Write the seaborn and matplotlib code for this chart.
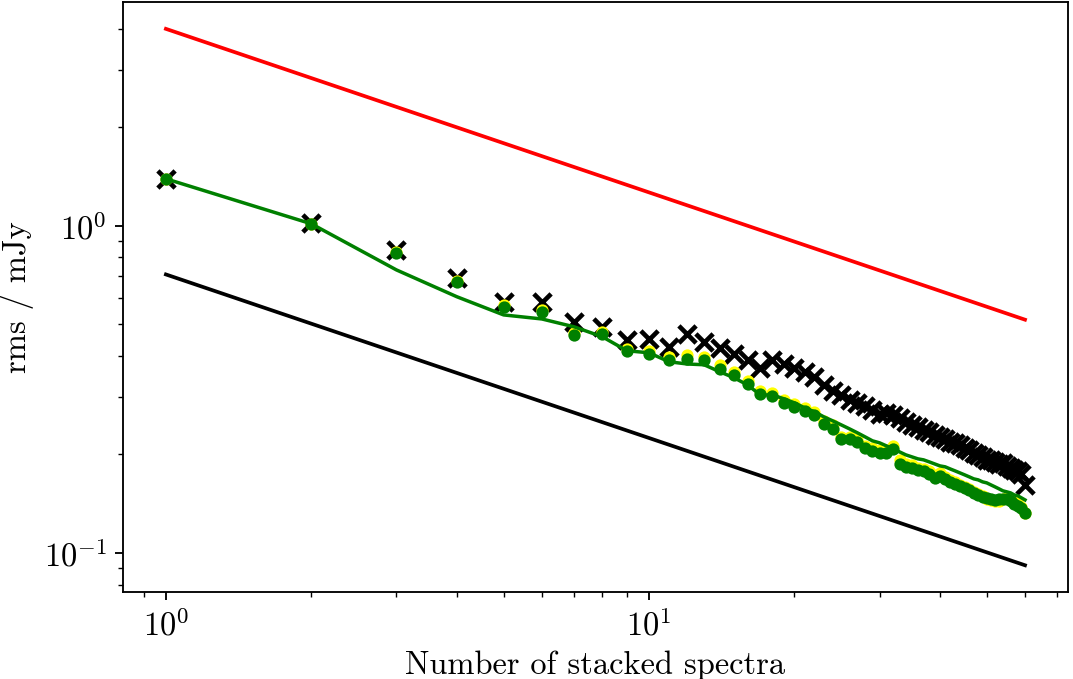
import numpy as np
import pandas as pd
import matplotlib
matplotlib.use("Agg")
import matplotlib.pyplot as plt
import seaborn as sns

# ---------------- data ----------------
n_spectra = list(range(1, 61))

rms_measured = [1.392, 1.021, 0.845, 0.693, 0.586, 0.586, 0.509, 0.491, 0.448, 0.451,
                0.427, 0.467, 0.442, 0.423, 0.406, 0.389, 0.368, 0.389, 0.378, 0.368,
                0.358, 0.345, 0.326, 0.313, 0.304, 0.294, 0.2875, 0.2815, 0.274, 0.266,
                0.267, 0.264, 0.259, 0.2516, 0.246, 0.243, 0.238, 0.234, 0.2296, 0.2263,
                0.2232, 0.2185, 0.217, 0.214, 0.2095, 0.2065, 0.2022, 0.1994, 0.1966, 0.1925,
                0.1925, 0.1898, 0.1871, 0.1884, 0.1845, 0.182, 0.1794, 0.1781, 0.1744, 0.1614]

rms_yellow = [1.392, 1.014, 0.83, 0.68, 0.573, 0.553, 0.471, 0.474, 0.421, 0.415,
              0.398, 0.403, 0.398, 0.376, 0.358, 0.336, 0.313, 0.309, 0.294, 0.286,
              0.278, 0.270, 0.253, 0.246, 0.226, 0.226, 0.223, 0.212, 0.2095, 0.2065,
              0.2065, 0.2124, 0.1925, 0.1871, 0.1858, 0.182, 0.1806, 0.1781, 0.1732, 0.1756,
              0.1708, 0.1672, 0.1649, 0.1615, 0.1592, 0.157, 0.1537, 0.1515, 0.1494, 0.1462,
              0.1452, 0.1442, 0.1442, 0.1462, 0.1473, 0.1452, 0.1432, 0.1412, 0.1382, 0.1325]

rms_green = [1.392, 1.014, 0.827, 0.674, 0.565, 0.546, 0.464, 0.467, 0.415, 0.406,
             0.389, 0.392, 0.389, 0.366, 0.350, 0.329, 0.306, 0.302, 0.2875, 0.2796,
             0.2718, 0.2643, 0.248, 0.2394, 0.2232, 0.2232, 0.2185, 0.2095, 0.205, 0.2022,
             0.2022, 0.208, 0.1871, 0.1833, 0.182, 0.1794, 0.1781, 0.1744, 0.1696, 0.172,
             0.1684, 0.1649, 0.1626, 0.1604, 0.1582, 0.1559, 0.1526, 0.1504, 0.1483, 0.1473,
             0.1462, 0.1452, 0.1462, 0.1462, 0.1462, 0.1442, 0.1412, 0.1392, 0.1373, 0.1325]

rms_green_line = [1.392, 1.014, 0.733, 0.607, 0.534, 0.519, 0.491, 0.458, 0.415, 0.409,
                  0.384, 0.378, 0.376, 0.358, 0.343, 0.326, 0.304, 0.304, 0.296, 0.2875,
                  0.2776, 0.270, 0.2606, 0.2533, 0.2462, 0.2394, 0.2328, 0.2263, 0.2201, 0.217,
                  0.2124, 0.208, 0.2036, 0.1994, 0.1966, 0.1939, 0.1925, 0.1898, 0.1871, 0.1845,
                  0.1833, 0.1806, 0.1781, 0.1756, 0.1732, 0.1708, 0.1684, 0.1672, 0.1649, 0.1637,
                  0.1614, 0.1592, 0.157, 0.1548, 0.1537, 0.1526, 0.1504, 0.1494, 0.1473, 0.1452]

# reference scaling lines (A / sqrt(N))
upper_norm = 4.0
lower_norm = 0.71

upper_line = [upper_norm / np.sqrt(n) for n in n_spectra]
lower_line = [lower_norm / np.sqrt(n) for n in n_spectra]

df = pd.DataFrame({
    "N": n_spectra,
    "measured": rms_measured,
    "yellow": rms_yellow,
    "green": rms_green,
    "green_line": rms_green_line,
    "upper": upper_line,
    "lower": lower_line,
})

# ---------------- style ----------------
plt.rcParams["font.family"] = ["cmr10"]
plt.rcParams["mathtext.fontset"] = "cm"
plt.rcParams["axes.formatter.use_mathtext"] = True
plt.rcParams["font.size"] = 14
plt.rcParams["axes.unicode_minus"] = False

DPI = 167
fig, ax = plt.subplots(figsize=(1073 / DPI, 679 / DPI), dpi=DPI)
fig.subplots_adjust(left=0.1146, right=0.9953, top=0.997, bottom=0.128)

sns.lineplot(data=df, x="N", y="upper", color="red", linewidth=1.6, ax=ax)
sns.lineplot(data=df, x="N", y="lower", color="black", linewidth=1.6, ax=ax)
sns.scatterplot(data=df, x="N", y="measured", marker="x", color="black",
                s=55, linewidth=2.0, ax=ax, zorder=3)
sns.scatterplot(data=df, x="N", y="yellow", marker="o", color="yellow",
                s=28, linewidth=0, ax=ax, zorder=4)
sns.scatterplot(data=df, x="N", y="green", marker="o", color="green",
                s=28, linewidth=0, ax=ax, zorder=5)
sns.lineplot(data=df, x="N", y="green_line", color="green", linewidth=1.5, ax=ax, zorder=6)

ax.set_xscale("log")
ax.set_yscale("log")
ax.set_xlabel("Number of stacked spectra", fontsize=14)
ax.set_ylabel("rms / mJy", fontsize=14)
ax.tick_params(labelsize=14)

fig.savefig("out.png", dpi=DPI)
